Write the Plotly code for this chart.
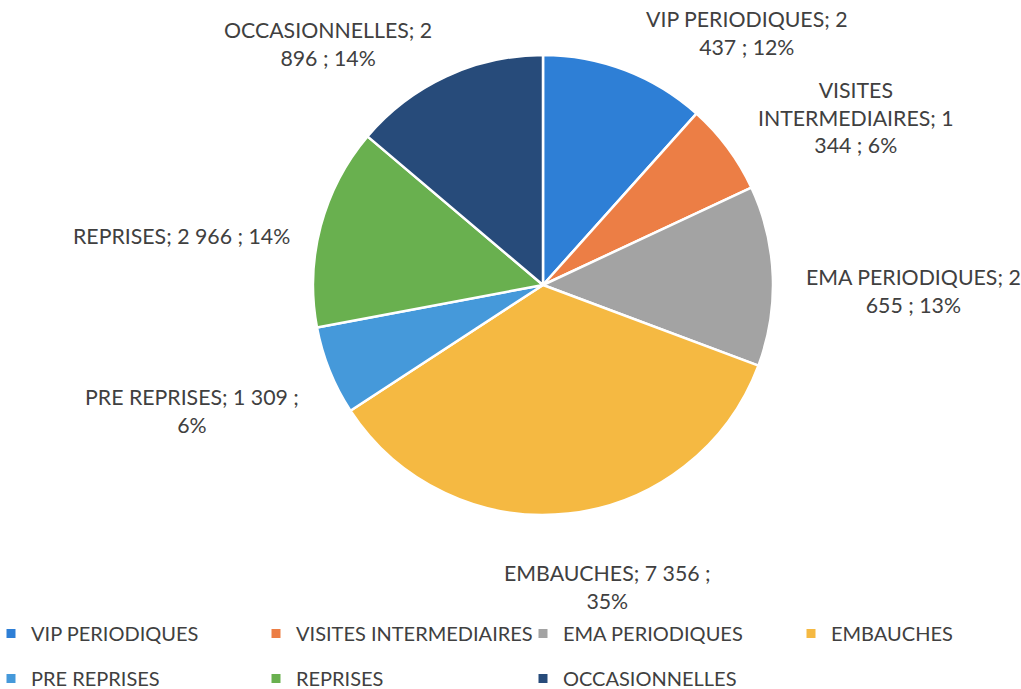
import textwrap
import math
import plotly.graph_objects as go

# ---- data ----
categories = ["VIP PERIODIQUES", "VISITES INTERMEDIAIRES", "EMA PERIODIQUES",
              "EMBAUCHES", "PRE REPRISES", "REPRISES", "OCCASIONNELLES"]
values = [2437, 1344, 2655, 7356, 1309, 2966, 2896]

# ---- style ----
colors = ["#2E7FD6", "#EC7E45", "#A3A3A3", "#F5B942", "#4599DA", "#69B04F", "#274B7A"]
label_wrap = [18, 17, 18, 18, 22, 24, 18]
# small per-label nudges (px) to mimic the original label placement
label_nudge_x = [14, 8, 0, 34, 0, 0, -6]
label_nudge_y = [3, -15, 16, 0, 0, 17, 10]
FONT = "Lato, Carlito, Calibri, sans-serif"
TXT = "#404040"
W, H = 1021, 689
cx, cy, R = 543, 285, 230   # pie centre / radius in px (layout)

total = sum(values)


def fmt(v):
    return f"{v:,}".replace(",", " ")


def to_paper(sx, sy):
    return sx / W, 1 - sy / H


fig = go.Figure()
x0, y0 = to_paper(cx - R, cy + R)
x1, y1 = to_paper(cx + R, cy - R)
fig.add_trace(go.Pie(
    labels=categories, values=values, sort=False, direction="clockwise", rotation=0,
    marker=dict(colors=colors, line=dict(color="white", width=2.5)),
    textinfo="none", hoverinfo="label+value+percent", showlegend=False,
    domain=dict(x=[x0, x1], y=[y0, y1]),
))

# outside labels computed from slice mid-angles
annotations = []
cum = 0
for cat, v, wrap, nx, ny in zip(categories, values, label_wrap, label_nudge_x, label_nudge_y):
    mid = (cum + v / 2) / total * 2 * math.pi
    cum += v
    dx, dy = math.sin(mid), -math.cos(mid)
    g = 2 + 29 * abs(dx) + 40 * max(0.0, dy) ** 3
    sx = cx + (R + g) * dx + nx
    sy = cy + (R + g) * dy + ny
    xa = "left" if dx > 0.3 else ("right" if dx < -0.3 else "center")
    ya = "bottom" if dy < -0.65 else ("top" if dy > 0.3 else "middle")
    raw = f"{cat}; {fmt(v)} ; {round(v / total * 100)}%"
    text = "<br>".join(textwrap.wrap(raw, wrap))
    ax, ay = to_paper(sx, sy)
    annotations.append(dict(
        x=ax, y=ay, xref="paper", yref="paper", text=text,
        showarrow=False, xanchor=xa, yanchor=ya, align="center",
        font=dict(family=FONT, size=21.3, color=TXT),
    ))

# legend: 4 columns, 2 rows (row-major order of categories)
ncols = 4
col_text_x = [33, 298, 565, 833]   # px where legend text starts
legend_names = ["legend", "legend2", "legend3", "legend4"]
for i, (cat, col) in enumerate(zip(categories, colors)):
    fig.add_trace(go.Scatter(
        x=[None], y=[None], mode="markers", name=cat,
        marker=dict(symbol="square", size=9, color=col),
        legend=legend_names[i % ncols], legendgroup=cat, showlegend=True,
    ))

legend_layout = {}
for c, name in enumerate(legend_names):
    lx, ly = to_paper(col_text_x[c] - 42, 633 - 19)
    legend_layout[name] = dict(
        orientation="v", xanchor="left", yanchor="top",
        x=lx, y=ly,
        tracegroupgap=16, bgcolor="rgba(0,0,0,0)",
        font=dict(family=FONT, size=20, color=TXT), itemclick=False,
    )

fig.update_layout(
    width=W, height=H,
    margin=dict(l=0, r=0, t=0, b=0, autoexpand=False),
    paper_bgcolor="white", plot_bgcolor="white",
    annotations=annotations,
    xaxis=dict(visible=False), yaxis=dict(visible=False),
    **legend_layout,
)

fig.write_html(
    "out.html",
    config={"displayModeBar": False},
    post_script="document.body.style.margin='0px';document.body.style.overflow='hidden';",
)
